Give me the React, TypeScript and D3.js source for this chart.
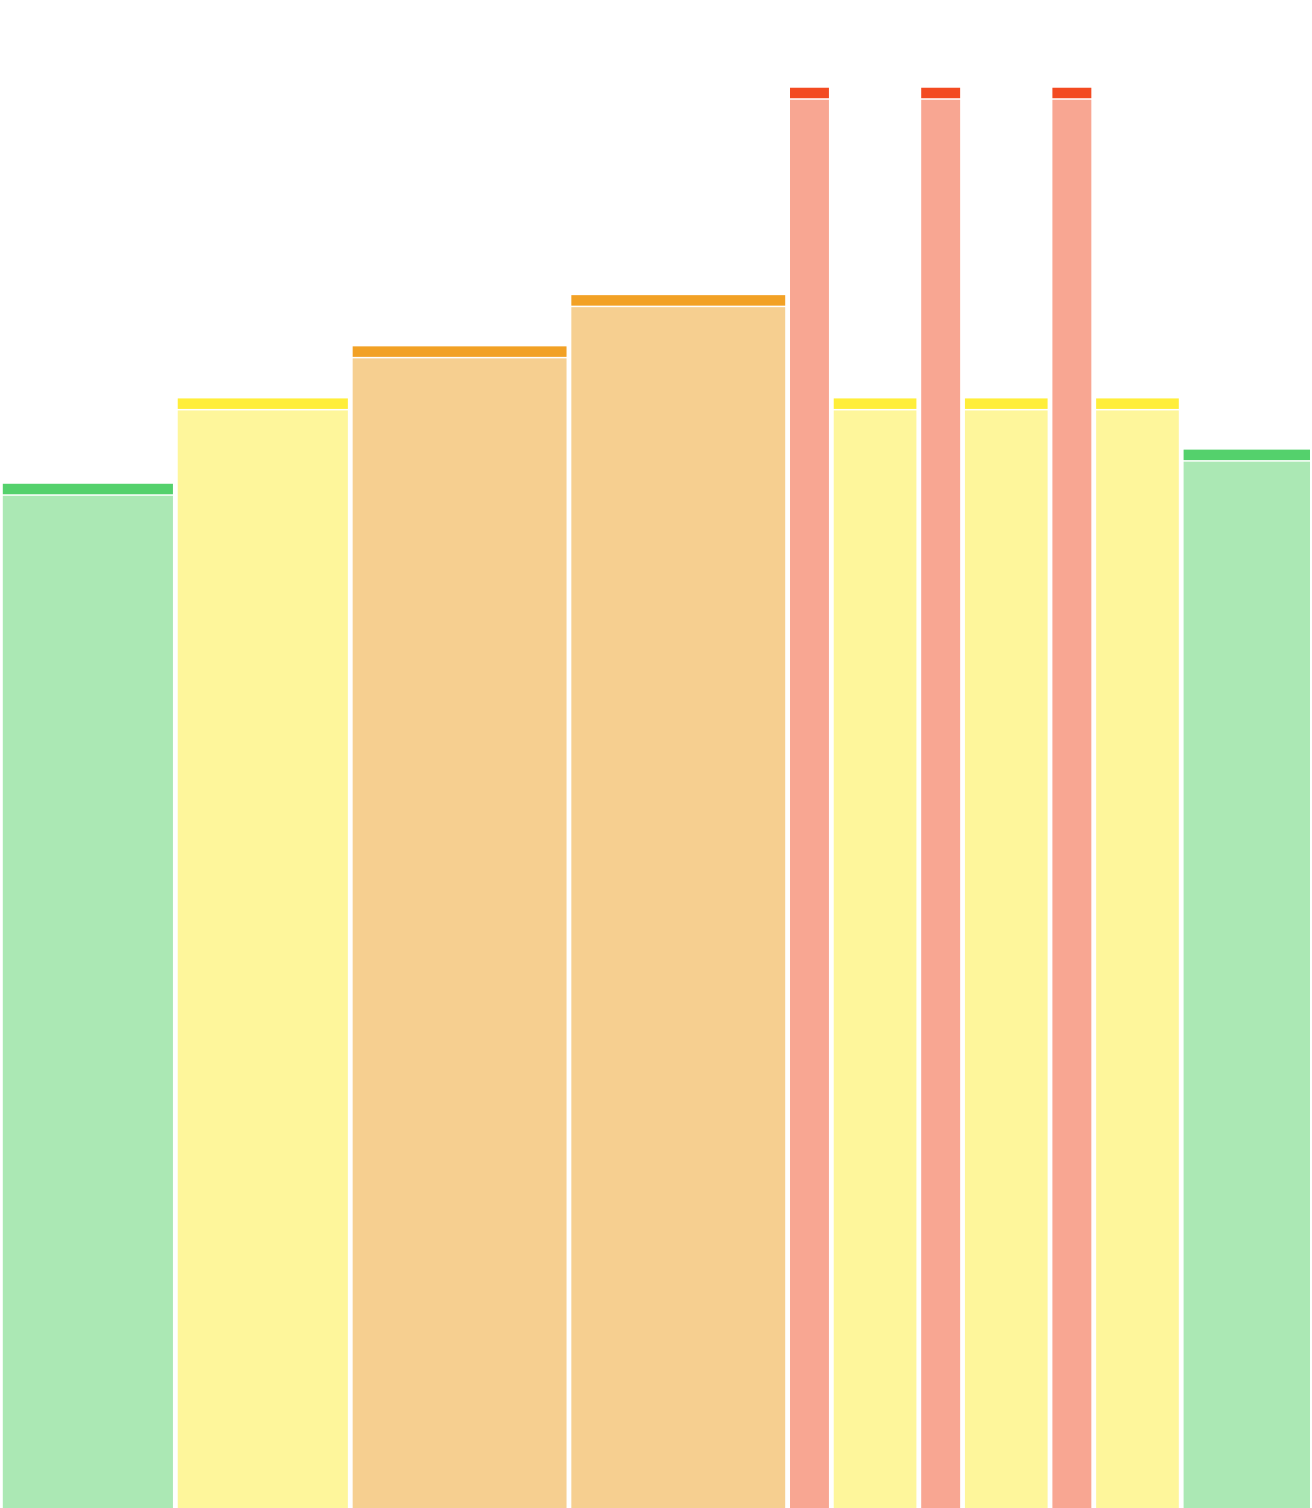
import { useRef, useEffect } from 'react';
import * as d3 from 'd3';

// column widths (relative units), heights and severity level per column
const widths = [4, 4, 5, 5, 1, 2, 1, 2, 1, 2, 3];
const values = [60, 65, 68.05, 71.05, 83.2, 65, 83.2, 65, 83.2, 65, 62];
const levels = ['low', 'mid', 'high', 'high', 'top', 'mid', 'top', 'mid', 'top', 'mid', 'low'];

const levelNames = ['low', 'mid', 'high', 'top'];
const capColors = ['#54d16c', '#ffee3a', '#f2a125', '#f34a21'];
const bodyColors = ['#abe8b4', '#fef69b', '#f6cf90', '#f8a692'];

export default function App() {
  const svgRef = useRef<SVGSVGElement>(null);

  useEffect(() => {
    document.body.style.margin = '0';
    const svg = d3.select(svgRef.current);
    svg.selectAll('*').remove();

    const W = 1312, H = 1508;
    const starts = d3.cumsum([0, ...widths.slice(0, -1)]);
    const rows = widths.map((w, i) => ({ x0: starts[i], x1: starts[i] + w, v: values[i], level: levels[i] }));

    const x = d3.scaleLinear().domain([0, d3.sum(widths)]).range([0, W]);
    const y = d3.scaleLinear().domain([0, 88.34]).range([H, 0]);
    const cap = d3.scaleOrdinal<string, string>().domain(levelNames).range(capColors);
    const body = d3.scaleOrdinal<string, string>().domain(levelNames).range(bodyColors);

    const g = svg.append('g');
    const bars = g.selectAll('g.bar').data(rows).join('g').attr('class', 'bar');

    // lighter body
    bars.append('rect')
      .attr('x', d => x(d.x0) + 2.8)
      .attr('width', d => x(d.x1) - x(d.x0) - 4.8)
      .attr('y', d => y(d.v) + 12)
      .attr('height', d => H - y(d.v) - 12)
      .attr('fill', d => body(d.level));

    // darker cap on top
    bars.append('rect')
      .attr('x', d => x(d.x0) + 2.8)
      .attr('width', d => x(d.x1) - x(d.x0) - 4.8)
      .attr('y', d => y(d.v))
      .attr('height', 10.5)
      .attr('fill', d => cap(d.level));
  }, []);

  return <svg ref={svgRef} width={1312} height={1508} style={{ display: 'block' }} />;
}
